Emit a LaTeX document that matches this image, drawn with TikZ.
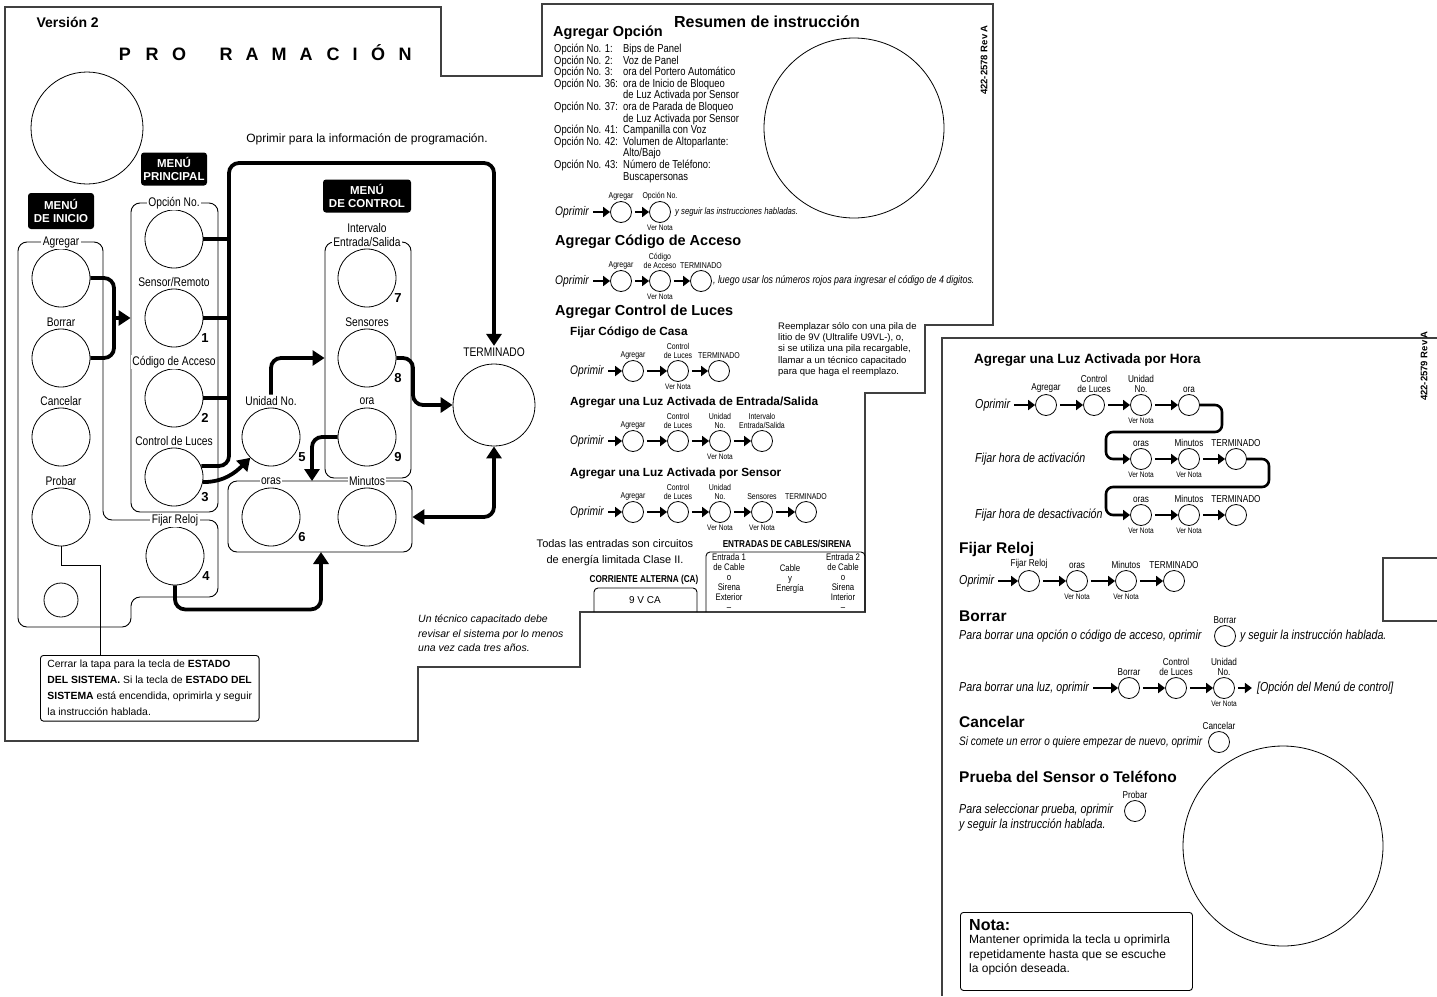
\documentclass[tikz,border=0pt]{standalone}
\usepackage{fontspec}
\setmainfont{Liberation Sans}
\newfontfamily\narrow{Liberation Sans}[FakeStretch=0.82]
\usetikzlibrary{arrows.meta,positioning,calc}

\begin{document}
\begin{tikzpicture}[x=1pt, y=-1pt,
  panel/.style={draw=black!75, line width=1.1pt},
  grp/.style={draw, line width=0.9pt, rounded corners=9pt},
  key/.style={circle, draw, line width=0.8pt, minimum size=58pt, inner sep=0pt},
  sk/.style={circle, draw, line width=0.8pt, minimum size=21pt, inner sep=0pt},
  klbl/.style={font=\narrow\fontsize{12.5}{14}\selectfont, fill=white, inner sep=1.5pt, align=center},
  num/.style={font=\bfseries\fontsize{13}{13}\selectfont, inner sep=0pt},
  tag/.style={fill=black, text=white, rounded corners=3pt, align=center, font=\bfseries\fontsize{11.5}{12.5}\selectfont, inner sep=2pt},
  conn/.style={line width=3.8pt, rounded corners=10pt},
  bigarr/.style={conn, -{Triangle[length=12pt,width=15pt]}},
  rowarr/.style={line width=2.6pt, shorten <=3pt, -{Triangle[length=7pt,width=10pt]}},
  wind/.style={line width=2.6pt, rounded corners=7pt, -{Triangle[length=7pt,width=10pt]}},
  tlbl/.style={font=\narrow\fontsize{8.5}{9}\selectfont, inner sep=1pt, align=center},
  tlblR/.style={font=\narrow\fontsize{10}{10.5}\selectfont, inner sep=1pt, align=center},
  vnota/.style={font=\narrow\fontsize{8}{8}\selectfont, inner sep=1.5pt},
  opr/.style={font=\narrow\itshape\fontsize{12.5}{13}\selectfont, inner sep=1pt, anchor=west},
  oprR/.style={font=\narrow\itshape\fontsize{13}{15}\selectfont, inner sep=1pt, anchor=west},
  hd/.style={font=\bfseries\fontsize{14.5}{15}\selectfont, inner sep=0pt, anchor=west},
  shd/.style={font=\bfseries\fontsize{11.8}{12}\selectfont, inner sep=0pt, anchor=west},
  tl/.style={font=\narrow\itshape\fontsize{9.5}{10}\selectfont, inner xsep=4pt, inner ysep=1pt, anchor=west}
]
\useasboundingbox (0,0) rectangle (1437,996);

% panel outlines
\draw[panel] (542,76) -- (542,4) -- (993,4) -- (993,325) -- (925,325) -- (925,393) -- (865,393)
  -- (865,612) -- (580,612) -- (580,667) -- (418,667) -- (418,741) -- (5,741) -- (5,7) -- (441,7) -- (441,76) -- cycle;
\draw[panel] (1437,338) -- (942,338) -- (942,996);
\draw[panel] (1437,558) -- (1383,558) -- (1383,621) -- (1437,621);

% ---------- left panel ----------
\node[font=\bfseries\fontsize{14}{14}\selectfont, anchor=west] (version) at (33,22) {Versión 2};
\foreach \ch/\x [count=\i] in {P/125,R/152,O/179,R/226,A/252,M/279,A/306,C/333,I/355,Ó/378,N/405}
  \node[font=\bfseries\fontsize{18}{18}\selectfont, inner sep=0pt, anchor=base] (pg\i) at (\x,60) {\ch};
\node[circle, draw, line width=0.8pt, minimum size=112pt] (logo) at (87,128) {};
\node[font=\fontsize{12}{12}\selectfont] (hint) at (367,139) {Oprimir para la información de programación.};

% menu groups
\draw[grp] (18,242) -- (103,242) -- (103,520) -- (218,520) -- (218,597) -- (131,597) -- (131,627) -- (18,627) -- cycle;
\node[grp, minimum width=87pt, minimum height=309pt] (princbox) at (174.5,357.5) {};
\node[grp, minimum width=86pt, minimum height=236pt] (ctrlbox) at (368,360) {};
\node[grp, minimum width=184pt, minimum height=71pt] (horasbox) at (320,516.5) {};

\node[tag, minimum width=66pt, minimum height=36pt] (tagInicio) at (61,211) {MENÚ\\DE INICIO};
\node[tag, minimum width=66pt, minimum height=33pt] (tagPrinc) at (174,169) {MENÚ\\PRINCIPAL};
\node[tag, minimum width=88pt, minimum height=33pt] (tagCtrl) at (367,196) {MENÚ\\DE CONTROL};

% keys
\foreach \n/\x/\y/\t in {agregar/61/278/Agregar, borrar/61/358/Borrar, cancelar/61/437/Cancelar, probar/61/517/Probar,
    opcion/174/239/{Opción No.}, sensor/174/318/{Sensor/Remoto}, codigo/174/398/{Código de Acceso}, luces/174/477/{Control de Luces},
    fijar/175/556/{Fijar Reloj}, unidad/271/437/{Unidad No.}, intervalo/367/278/{Entrada/Salida},
    sensores/367/358/Sensores, ora/367/437/ora, horas/271/517/oras, minutos/367/517/Minutos} {
  \node[key] (\n) at (\x,\y) {};
  \node[klbl] (l\n) at (\x,\y-36) {\t};
}
\node[klbl, fill=none] (lintervalo2) at (367,228) {Intervalo};
\node[key, minimum size=34pt] (estado) at (61,600) {};
\node[key, minimum size=82pt] (term) at (494,405) {};
\node[klbl, fill=none] (lterm) at (494,352) {TERMINADO};

\foreach \n/\d in {sensor/1, codigo/2, luces/3, fijar/4, unidad/5, horas/6, intervalo/7, sensores/8, ora/9}
  \node[num] (n\d) at ($(\n)+(31,20)$) {\d};

% thick connectors
\coordinate (brk) at (114,318);
\coordinate (bus) at (229,163);
\coordinate (s8) at (413,380);
\coordinate (oraIn) at (312,481);
\coordinate (fijIn) at (321,552);
\draw[conn] (agregar.east) -| (brk) |- (borrar.east);
\draw[bigarr] (brk) -- (brk -| princbox.west);
\foreach \n in {opcion, sensor, codigo}
  \draw[conn] (\n.east) -- (\n.east -| bus);
\draw[bigarr] (luces.22) -| (bus) -| (lterm.north);
\draw[bigarr] (luces.-10) to[out=0, in=225] (unidad.225);
\draw[bigarr] (lunidad.north) |- (sensores -| ctrlbox.west);
\draw[bigarr] (sensores.east) -| (s8) |- (term.west);
\draw[bigarr] (ora.west) -| (oraIn);
\draw[bigarr] (fijar.south) -- ++(0,24) -| (fijIn);
\draw[bigarr, {Triangle[length=12pt,width=15pt]}-{Triangle[length=12pt,width=15pt]}] (minutos -| horasbox.east) -| (term.south);

% status note
\node[draw, line width=0.9pt, rounded corners=3pt, anchor=north west, align=left,
  inner xsep=7pt, inner ysep=5pt, font=\fontsize{10.4}{16}\selectfont] (tapa) at (40,655)
  {Cerrar la tapa para la tecla de \textbf{ESTADO}\\\textbf{DEL SISTEMA.} Si la tecla de \textbf{ESTADO DEL}\\\textbf{SISTEMA} está encendida, oprimirla y seguir\\la instrucción hablada.};
\draw[line width=0.8pt] (probar.south) -- ++(0,19) -| ($(tapa.north west)+(60,0)$);

% ---------- instruction summary ----------
\node[font=\bfseries\fontsize{16}{16}\selectfont] (resumen) at (767,22) {Resumen de instrucción};
\node[font=\bfseries\fontsize{9.5}{9.5}\selectfont, rotate=90] (rev1) at (984,60) {422-2578 Rev A};
\node[circle, draw, line width=0.8pt, minimum size=180pt] (disk1) at (854,128) {};
\node[hd] (hOpcion) at (553,33) {Agregar Opción};
\node[font=\narrow\fontsize{11.5}{11.6}\selectfont, align=left, anchor=north west, inner sep=0pt] (optnum) at (554,44)
  {Opción No. 1:\\Opción No. 2:\\Opción No. 3:\\Opción No. 36:\\[11.6pt]Opción No. 37:\\[11.6pt]Opción No. 41:\\Opción No. 42:\\[11.6pt]Opción No. 43:};
\node[font=\narrow\fontsize{11.5}{11.6}\selectfont, align=left, anchor=north west, inner sep=0pt] (opttxt) at (623,44)
  {Bips de Panel\\Voz de Panel\\ora del Portero Automático\\ora de Inicio de Bloqueo\\de Luz Activada por Sensor\\ora de Parada de Bloqueo\\de Luz Activada por Sensor\\Campanilla con Voz\\Volumen de Altoparlante:\\Alto/Bajo\\Número de Teléfono:\\Buscapersonas};

% row: add option
\node[opr] (oA) at (554,212) {Oprimir};
\foreach \n/\x/\t in {a1/621/Agregar, a2/660/{Opción No.}} {
  \node[sk] (\n) at (\x,212) {};
  \node[tlbl, anchor=south] (l\n) at (\n.north) {\t};
}
\foreach \s/\e in {oA/a1, a1/a2} \draw[rowarr] (\s) -- (\e);
\node[vnota, anchor=north] (va2) at (a2.south) {Ver Nota};
\node[tl] (ta) at (a2.east) {y seguir las instrucciones habladas.};

% row: access code
\node[hd] (hCodigo) at (555,242) {Agregar Código de Acceso};
\node[opr] (oB) at (554,281) {Oprimir};
\foreach \n/\x/\t in {b1/621/Agregar, b2/660/{Código\\de Acceso}, b3/701/TERMINADO} {
  \node[sk] (\n) at (\x,281) {};
  \node[tlbl, anchor=south] (l\n) at (\n.north) {\t};
}
\foreach \s/\e in {oB/b1, b1/b2, b2/b3} \draw[rowarr] (\s) -- (\e);
\node[vnota, anchor=north] (vb2) at (b2.south) {Ver Nota};
\node[tl, font=\narrow\itshape\fontsize{10.8}{11}\selectfont, inner xsep=1pt] (tb) at (b3.east) {, luego usar los números rojos para ingresar el código de 4 digitos.};

% light control
\node[hd] (hLuces) at (555,312) {Agregar Control de Luces};
\node[shd] (hCasa) at (570,332) {Fijar Código de Casa};
\node[opr] (oC) at (569,371) {Oprimir};
\foreach \n/\x/\t in {c1/633/Agregar, c2/678/{Control\\de Luces}, c3/719/TERMINADO} {
  \node[sk] (\n) at (\x,371) {};
  \node[tlbl, anchor=south] (l\n) at (\n.north) {\t};
}
\foreach \s/\e in {oC/c1, c1/c2, c2/c3} \draw[rowarr] (\s) -- (\e);
\node[vnota, anchor=north] (vc2) at (c2.south) {Ver Nota};
\node[font=\fontsize{9.5}{11.3}\selectfont, align=left, anchor=north west, inner sep=0pt] (pila) at (778,322)
  {Reemplazar sólo con una pila de\\litio de 9V (Ultralife U9VL-), o,\\si se utiliza una pila recargable,\\llamar a un técnico capacitado\\para que haga el reemplazo.};

\node[shd] (hEntrada) at (570,402) {Agregar una Luz Activada de Entrada/Salida};
\node[opr] (oD) at (569,441) {Oprimir};
\foreach \n/\x/\t in {d1/633/Agregar, d2/678/{Control\\de Luces}, d3/720/{Unidad\\No.}, d4/762/{Intervalo\\Entrada/Salida}} {
  \node[sk] (\n) at (\x,441) {};
  \node[tlbl, anchor=south] (l\n) at (\n.north) {\t};
}
\foreach \s/\e in {oD/d1, d1/d2, d2/d3, d3/d4} \draw[rowarr] (\s) -- (\e);
\node[vnota, anchor=north] (vd3) at (d3.south) {Ver Nota};

\node[shd] (hSensor) at (570,473) {Agregar una Luz Activada por Sensor};
\node[opr] (oE) at (569,512) {Oprimir};
\foreach \n/\x/\t in {e1/633/Agregar, e2/678/{Control\\de Luces}, e3/720/{Unidad\\No.}, e4/762/Sensores, e5/806/TERMINADO} {
  \node[sk] (\n) at (\x,512) {};
  \node[tlbl, anchor=south] (l\n) at (\n.north) {\t};
}
\foreach \s/\e in {oE/e1, e1/e2, e2/e3, e3/e4, e4/e5} \draw[rowarr] (\s) -- (\e);
\node[vnota, anchor=north] (ve3) at (e3.south) {Ver Nota};
\node[vnota, anchor=north] (ve4) at (e4.south) {Ver Nota};

% terminals
\node[font=\fontsize{11}{16}\selectfont, align=center] (clase) at (615,553) {Todas las entradas son circuitos\\de energía limitada Clase II.};
\node[font=\narrow\bfseries\fontsize{10}{10}\selectfont] (ca) at (644,580) {CORRIENTE ALTERNA (CA)};
\draw[line width=0.9pt, rounded corners=4pt] (594,612) -- (594,588) -- (697,588) -- (697,612);
\node[font=\fontsize{10}{10}\selectfont] (vca) at (645,600) {9 V CA};
\node[font=\narrow\bfseries\fontsize{10}{10}\selectfont] (entradas) at (787,544) {ENTRADAS DE CABLES/SIRENA};
\draw[line width=0.9pt, rounded corners=4pt] (706,612) -- (706,552) -- (865,552) -- (865,612);
\node[font=\narrow\fontsize{9.5}{10}\selectfont, align=center, anchor=north, inner sep=0pt] (in1) at (729,553) {Entrada 1\\de Cable\\o\\Sirena\\Exterior\\–};
\node[font=\narrow\fontsize{9.5}{10}\selectfont, align=center, anchor=north, inner sep=0pt] (cable) at (790,564) {Cable\\y\\Energía};
\node[font=\narrow\fontsize{9.5}{10}\selectfont, align=center, anchor=north, inner sep=0pt] (in2) at (843,553) {Entrada 2\\de Cable\\o\\Sirena\\Interior\\–};
\node[font=\itshape\fontsize{10.5}{14.5}\selectfont, align=left, anchor=north west, inner sep=0pt] (tecnico) at (418,615)
  {Un técnico capacitado debe\\revisar el sistema por lo menos\\una vez cada tres años.};

% ---------- right panel ----------
\node[font=\bfseries\fontsize{9.5}{9.5}\selectfont, rotate=90] (rev2) at (1424,366) {422-2579 Rev A};
\node[hd, font=\bfseries\fontsize{13.5}{14}\selectfont] (hHora) at (974,360) {Agregar una Luz Activada por Hora};
\node[oprR] (oF) at (974,405) {Oprimir};
\foreach \n/\x/\t in {f1/1046/Agregar, f2/1094/{Control\\de Luces}, f3/1141/{Unidad\\No.}, f4/1189/ora} {
  \node[sk] (\n) at (\x,405) {};
  \node[tlblR, anchor=south] (l\n) at (\n.north) {\t};
}
\foreach \s/\e in {oF/f1, f1/f2, f2/f3, f3/f4} \draw[rowarr] (\s) -- (\e);
\node[vnota, anchor=north] (vf3) at (f3.south) {Ver Nota};

\node[oprR] (oG) at (974,459) {Fijar hora de activación};
\node[oprR] (oH) at (974,515) {Fijar hora de desactivación};
\foreach \r/\y in {g/459, h/515} {
  \foreach \n/\x/\t in {1/1141/oras, 2/1189/Minutos, 3/1236/TERMINADO} {
    \node[sk] (\r\n) at (\x,\y) {};
    \node[tlblR, anchor=south] (l\r\n) at (\r\n.north) {\t};
  }
  \draw[rowarr] (\r1) -- (\r2);
  \draw[rowarr] (\r2) -- (\r3);
  \node[vnota, anchor=north] (v\r1) at (\r1.south) {Ver Nota};
  \node[vnota, anchor=north] (v\r2) at (\r2.south) {Ver Nota};
}
\coordinate (fg) at (1222,432);
\coordinate (fgb) at (1106,432);
\coordinate (gh) at (1269,487);
\coordinate (ghb) at (1106,487);
\draw[wind] (f4.east) -| (fg) -- (fgb) |- (g1.west);
\draw[wind] (g3.east) -| (gh) -- (ghb) |- (h1.west);

\node[hd, font=\bfseries\fontsize{15.5}{16}\selectfont] (hReloj) at (959,549) {Fijar Reloj};
\node[oprR] (oI) at (958,581) {Oprimir};
\foreach \n/\x/\t in {i1/1029/{Fijar Reloj}, i2/1077/oras, i3/1126/Minutos, i4/1174/TERMINADO} {
  \node[sk] (\n) at (\x,581) {};
  \node[tlblR, anchor=south] (l\n) at (\n.north) {\t};
}
\foreach \s/\e in {oI/i1, i1/i2, i2/i3, i3/i4} \draw[rowarr] (\s) -- (\e);
\node[vnota, anchor=north] (vi2) at (i2.south) {Ver Nota};
\node[vnota, anchor=north] (vi3) at (i3.south) {Ver Nota};

\node[hd, font=\bfseries\fontsize{15.5}{16}\selectfont] (hBorrar) at (959,616) {Borrar};
\node[oprR] (oJ) at (958,636) {Para borrar una opción o código de acceso, oprimir};
\node[sk] (bo1) at (1225,636) {};
\node[tlblR, anchor=south] (lbo1) at (bo1.north) {Borrar};
\node[oprR, inner xsep=4pt] (tJ) at (bo1.east) {y seguir la instrucción hablada.};

\node[oprR] (oK) at (958,688) {Para borrar una luz, oprimir};
\foreach \n/\x/\t in {k1/1129/Borrar, k2/1176/{Control\\de Luces}, k3/1224/{Unidad\\No.}} {
  \node[sk] (\n) at (\x,688) {};
  \node[tlblR, anchor=south] (l\n) at (\n.north) {\t};
}
\node[oprR, right=21pt of k3] (tK) {[Opción del Menú de control]};
\foreach \s/\e in {oK/k1, k1/k2, k2/k3} \draw[rowarr] (\s) -- (\e);
\draw[rowarr, shorten >=4pt] (k3) -- (tK);
\node[vnota, anchor=north] (vk3) at (k3.south) {Ver Nota};

\node[hd, font=\bfseries\fontsize{15.5}{16}\selectfont] (hCancel) at (959,722) {Cancelar};
\node[oprR, font=\narrow\itshape\fontsize{12.2}{14}\selectfont] (oL) at (958,742) {Si comete un error o quiere empezar de nuevo, oprimir};
\node[sk] (cn1) at (1219,742) {};
\node[tlblR, anchor=south] (lcn1) at (cn1.north) {Cancelar};

\node[hd, font=\bfseries\fontsize{15.5}{16}\selectfont] (hPrueba) at (959,777) {Prueba del Sensor o Teléfono};
\node[oprR, align=left, anchor=north west] (oM) at (958,803) {Para seleccionar prueba, oprimir\\y seguir la instrucción hablada.};
\node[sk] (pb1) at (1135,811) {};
\node[tlblR, anchor=south] (lpb1) at (pb1.north) {Probar};
\node[circle, draw, line width=0.8pt, minimum size=200pt] (disk2) at (1283,846) {};

\node[draw, line width=0.9pt, rounded corners=3pt, anchor=north west, minimum width=232pt, minimum height=78pt] (nota) at (960,912) {};
\node[font=\bfseries\fontsize{16}{16}\selectfont, anchor=west, inner sep=0pt] (notaT) at (969,925) {Nota:};
\node[font=\fontsize{12}{14.5}\selectfont, align=left, anchor=north west, inner sep=0pt] (notaB) at (969,935)
  {Mantener oprimida la tecla u oprimirla\\repetidamente hasta que se escuche\\la opción deseada.};
\end{tikzpicture}
\end{document}
